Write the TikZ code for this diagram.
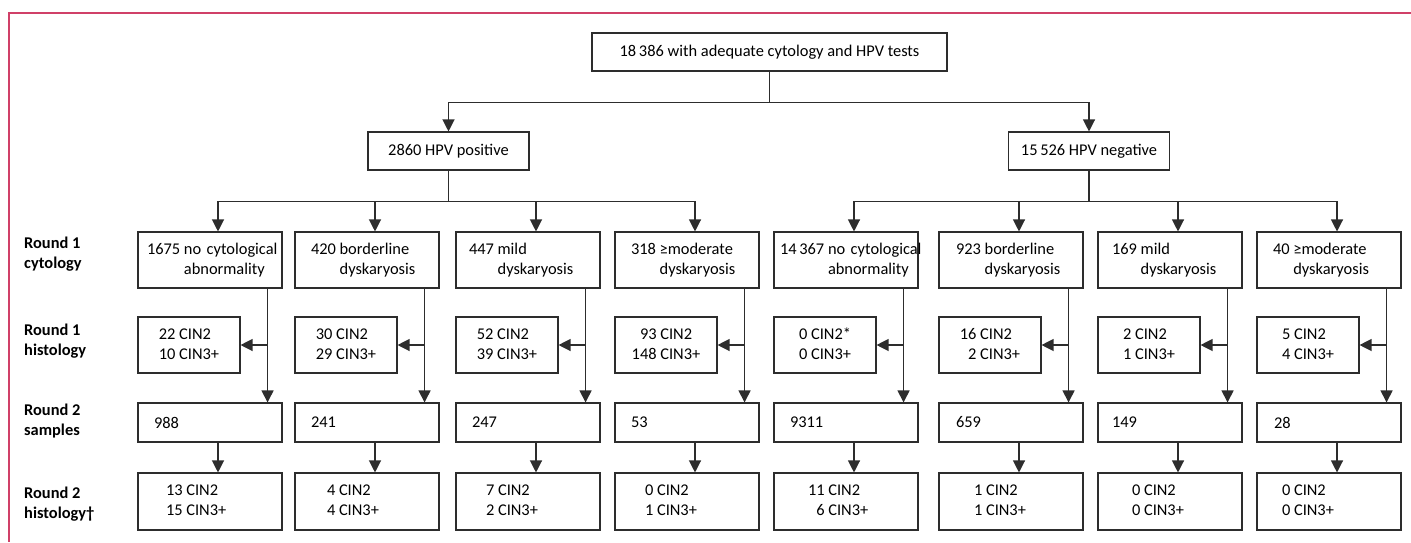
\documentclass[tikz,border=0pt]{standalone}
\usepackage{fontspec}
\setmainfont{Carlito}
\usetikzlibrary{arrows.meta}

\definecolor{framered}{RGB}{208,64,104}
\definecolor{linegray}{RGB}{45,45,45}

% number column right aligned, words left aligned
\newcommand{\pair}[4]{\begin{tabular}{@{}r@{\hspace{3.7pt}}l@{}}#1&#2\\#3&#4\end{tabular}}

\tikzset{
  box/.style={draw=linegray, line width=1.1pt, inner sep=0pt, font=\fontsize{16.4}{20}\selectfont},
  wide/.style={box, text width=144pt, align=left},
  cytbox/.style={wide, minimum height=56pt},
  histbox/.style={box, minimum width=102pt, minimum height=56pt},
  sampbox/.style={wide, minimum height=39pt},
  resbox/.style={wide, minimum height=57pt},
  rowlabel/.style={anchor=west, align=left, inner sep=0pt, font=\fontsize{16.4}{20}\selectfont\bfseries},
  link/.style={draw=linegray, line width=1.2pt},
  arrow/.style={link, -{Triangle[width=12pt,length=12pt]}}
}

\begin{document}
\begin{tikzpicture}[x=1pt, y=-1pt]

	\useasboundingbox (0,0) rectangle (1411,542);
	\draw[framered, line width=1.2pt] (1411,13) -- (9,13) -- (9,542);

	% top of the tree
	\node[box, minimum width=355pt, minimum height=38pt] (top) at (769.5,52) {18\,386 with adequate cytology and HPV tests};
	\node[box, minimum width=161pt, minimum height=38pt] (pos) at (448.5,151) {2860 HPV positive};
	\node[box, minimum width=161pt, minimum height=38pt] (neg) at (1089,151) {15\,526 HPV negative};

	% row labels
	\node[rowlabel] (lab1) at (24,254) {Round 1\\cytology};
	\node[rowlabel] (lab2) at (24,341) {Round 1\\histology};
	\node[rowlabel] (lab3) at (24,421) {Round 2\\samples};
	\node[rowlabel] (lab4) at (24,504) {Round 2\\histology†};

	% round 1 cytology
	\node[cytbox] (c1) at (210,260) {\hspace*{9pt}\pair{1675}{no cytological}{}{abnormality}};
	\node[cytbox] (c2) at (367,260) {\hspace*{16pt}\pair{420}{borderline}{}{dyskaryosis}};
	\node[cytbox] (c3) at (528,260) {\hspace*{13pt}\pair{447}{mild}{}{dyskaryosis}};
	\node[cytbox] (c4) at (687,260) {\hspace*{16pt}\pair{318}{≥moderate}{}{dyskaryosis}};
	\node[cytbox] (c5) at (846,260) {\hspace*{6pt}\pair{14\,367}{no cytological}{}{abnormality}};
	\node[cytbox] (c6) at (1011,260) {\hspace*{17pt}\pair{923}{borderline}{}{dyskaryosis}};
	\node[cytbox] (c7) at (1170,260) {\hspace*{14pt}\pair{169}{mild}{}{dyskaryosis}};
	\node[cytbox] (c8) at (1329,260) {\hspace*{16pt}\pair{40}{≥moderate}{}{dyskaryosis}};

	% round 1 histology
	\node[histbox] (h1) at (189,345) {\pair{22}{CIN2}{10}{CIN3+}};
	\node[histbox] (h2) at (346,345) {\pair{30}{CIN2}{29}{CIN3+}};
	\node[histbox] (h3) at (507,345) {\pair{52}{CIN2}{39}{CIN3+}};
	\node[histbox] (h4) at (666,345) {\pair{93}{CIN2}{148}{CIN3+}};
	\node[histbox] (h5) at (825,345) {\pair{0}{CIN2*}{0}{CIN3+}};
	\node[histbox] (h6) at (990,345) {\pair{16}{CIN2}{2}{CIN3+}};
	\node[histbox] (h7) at (1149,345) {\pair{2}{CIN2}{1}{CIN3+}};
	\node[histbox] (h8) at (1308,345) {\pair{5}{CIN2}{4}{CIN3+}};

	% round 2 samples
	\node[sampbox] (s1) at (210,422.5) {\hspace*{16pt}988};
	\node[sampbox] (s2) at (367,422.5) {\hspace*{16pt}241};
	\node[sampbox] (s3) at (528,422.5) {\hspace*{16pt}247};
	\node[sampbox] (s4) at (687,422.5) {\hspace*{16pt}53};
	\node[sampbox] (s5) at (846,422.5) {\hspace*{16pt}9311};
	\node[sampbox] (s6) at (1011,422.5) {\hspace*{17pt}659};
	\node[sampbox] (s7) at (1170,422.5) {\hspace*{14pt}149};
	\node[sampbox] (s8) at (1329,422.5) {\hspace*{17pt}28};

	% round 2 histology
	\node[resbox] (r1) at (210,501.5) {\hspace*{28pt}\pair{13}{CIN2}{15}{CIN3+}};
	\node[resbox] (r2) at (367,501.5) {\hspace*{32pt}\pair{4}{CIN2}{4}{CIN3+}};
	\node[resbox] (r3) at (528,501.5) {\hspace*{30pt}\pair{7}{CIN2}{2}{CIN3+}};
	\node[resbox] (r4) at (687,501.5) {\hspace*{30pt}\pair{0}{CIN2}{1}{CIN3+}};
	\node[resbox] (r5) at (846,501.5) {\hspace*{34pt}\pair{11}{CIN2}{6}{CIN3+}};
	\node[resbox] (r6) at (1011,501.5) {\hspace*{35pt}\pair{1}{CIN2}{1}{CIN3+}};
	\node[resbox] (r7) at (1170,501.5) {\hspace*{34pt}\pair{0}{CIN2}{0}{CIN3+}};
	\node[resbox] (r8) at (1329,501.5) {\hspace*{25pt}\pair{0}{CIN2}{0}{CIN3+}};

	% split by HPV result
	\coordinate (jt) at ([yshift=-31pt]top.south);
	\draw[link] (top.south) -- (jt);
	\draw[arrow] (jt) -| (pos.north);
	\draw[arrow] (jt) -| (neg.north);

	\coordinate (jp) at ([yshift=-31pt]pos.south);
	\draw[link] (pos.south) -- (jp);
	\draw[arrow] (jp) -| ([xshift=8pt]c1.north);
	\draw[arrow] (jp) -| ([xshift=8pt]c2.north);
	\draw[arrow] (jp) -| ([xshift=8pt]c3.north);
	\draw[arrow] (jp) -| ([xshift=8pt]c4.north);

	\coordinate (jn) at ([yshift=-31pt]neg.south);
	\draw[link] (neg.south) -- (jn);
	\draw[arrow] (jn) -| ([xshift=8pt]c5.north);
	\draw[arrow] (jn) -| ([xshift=8pt]c6.north);
	\draw[arrow] (jn) -| ([xshift=8pt]c7.north);
	\draw[arrow] (jn) -| ([xshift=8pt]c8.north);

	% down each column
	\coordinate (v1) at ([xshift=-15pt]c1.south east);
	\draw[arrow] (v1) -- (v1 |- s1.north);
	\draw[arrow] (v1 |- h1.east) -- (h1.east);
	\draw[arrow] ([xshift=8pt]s1.south) -- ([xshift=8pt]r1.north);

	\coordinate (v2) at ([xshift=-15pt]c2.south east);
	\draw[arrow] (v2) -- (v2 |- s2.north);
	\draw[arrow] (v2 |- h2.east) -- (h2.east);
	\draw[arrow] ([xshift=8pt]s2.south) -- ([xshift=8pt]r2.north);

	\coordinate (v3) at ([xshift=-15pt]c3.south east);
	\draw[arrow] (v3) -- (v3 |- s3.north);
	\draw[arrow] (v3 |- h3.east) -- (h3.east);
	\draw[arrow] ([xshift=8pt]s3.south) -- ([xshift=8pt]r3.north);

	\coordinate (v4) at ([xshift=-15pt]c4.south east);
	\draw[arrow] (v4) -- (v4 |- s4.north);
	\draw[arrow] (v4 |- h4.east) -- (h4.east);
	\draw[arrow] ([xshift=8pt]s4.south) -- ([xshift=8pt]r4.north);

	\coordinate (v5) at ([xshift=-15pt]c5.south east);
	\draw[arrow] (v5) -- (v5 |- s5.north);
	\draw[arrow] (v5 |- h5.east) -- (h5.east);
	\draw[arrow] ([xshift=8pt]s5.south) -- ([xshift=8pt]r5.north);

	\coordinate (v6) at ([xshift=-15pt]c6.south east);
	\draw[arrow] (v6) -- (v6 |- s6.north);
	\draw[arrow] (v6 |- h6.east) -- (h6.east);
	\draw[arrow] ([xshift=8pt]s6.south) -- ([xshift=8pt]r6.north);

	\coordinate (v7) at ([xshift=-15pt]c7.south east);
	\draw[arrow] (v7) -- (v7 |- s7.north);
	\draw[arrow] (v7 |- h7.east) -- (h7.east);
	\draw[arrow] ([xshift=8pt]s7.south) -- ([xshift=8pt]r7.north);

	\coordinate (v8) at ([xshift=-15pt]c8.south east);
	\draw[arrow] (v8) -- (v8 |- s8.north);
	\draw[arrow] (v8 |- h8.east) -- (h8.east);
	\draw[arrow] ([xshift=8pt]s8.south) -- ([xshift=8pt]r8.north);

\end{tikzpicture}
\end{document}
